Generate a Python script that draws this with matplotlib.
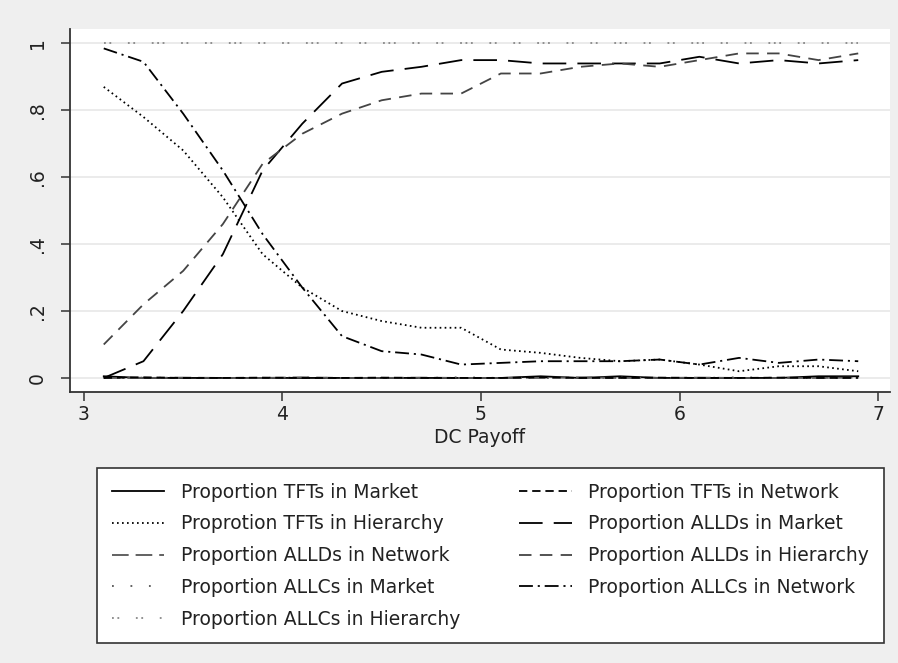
import matplotlib
matplotlib.use("Agg")
import matplotlib.pyplot as plt

# DC payoff steps and simulated strategy proportions
dc_payoff = [3.1, 3.3, 3.5, 3.7, 3.9, 4.1, 4.3, 4.5, 4.7, 4.9,
             5.1, 5.3, 5.5, 5.7, 5.9, 6.1, 6.3, 6.5, 6.7, 6.9]

tft_market = [0.005, 0.0, 0.0, 0.0, 0.0, 0.0, 0.0, 0.0, 0.0, 0.0,
              0.0, 0.005, 0.0, 0.005, 0.0, 0.0, 0.0, 0.0, 0.005, 0.005]
tft_network = [0.0, 0.002, 0.0, 0.0, 0.001, 0.0, 0.0, 0.001, 0.0, 0.0,
               0.0, 0.002, 0.0, 0.0, 0.001, 0.0, 0.0, 0.001, 0.0, 0.0]
tft_hierarchy = [0.87, 0.78, 0.68, 0.54, 0.37, 0.27, 0.20, 0.17, 0.15, 0.15,
                 0.085, 0.075, 0.06, 0.05, 0.055, 0.04, 0.02, 0.035, 0.035, 0.02]
alld_market = [0.0, 0.05, 0.20, 0.37, 0.62, 0.76, 0.88, 0.915, 0.93, 0.95,
               0.95, 0.94, 0.94, 0.94, 0.94, 0.96, 0.94, 0.95, 0.94, 0.95]
alld_network = [0.0, 0.0, 0.001, 0.0, 0.0, 0.002, 0.0, 0.0, 0.001, 0.0,
                0.0, 0.0, 0.002, 0.0, 0.0, 0.001, 0.0, 0.0, 0.0, 0.001]
alld_hierarchy = [0.10, 0.22, 0.32, 0.46, 0.64, 0.73, 0.79, 0.83, 0.85, 0.85,
                  0.91, 0.91, 0.93, 0.94, 0.93, 0.95, 0.97, 0.97, 0.95, 0.97]
allc_market = [0.0, 0.001, 0.0, 0.0, 0.0, 0.001, 0.0, 0.0, 0.0, 0.002,
               0.0, 0.0, 0.0, 0.001, 0.0, 0.0, 0.002, 0.0, 0.0, 0.0]
allc_network = [0.985, 0.945, 0.79, 0.62, 0.43, 0.27, 0.125, 0.08, 0.07, 0.04,
                0.045, 0.05, 0.05, 0.05, 0.055, 0.04, 0.06, 0.045, 0.055, 0.05]
allc_hierarchy = [1.0, 1.0, 1.0, 1.0, 1.0, 1.0, 1.0, 1.0, 1.0, 1.0,
                  1.0, 1.0, 1.0, 1.0, 1.0, 1.0, 1.0, 1.0, 1.0, 1.0]

x_ticks = [3, 4, 5, 6, 7]
y_ticks = [0, 0.2, 0.4, 0.6, 0.8, 1.0]
y_tick_labels = ["0", ".2", ".4", ".6", ".8", "1"]

# (values, label, colour, dash pattern in points), in legend order
series = [
    (tft_market, "Proportion TFTs in Market", "black", "-"),
    (tft_hierarchy, "Proprotion TFTs in Hierarchy", "black", (0, (1.2, 2.4))),
    (alld_network, "Proportion ALLDs in Network", "#555555", (0, (12, 5))),
    (allc_market, "Proportion ALLCs in Market", "#555555", (0, (1.3, 12))),
    (allc_hierarchy, "Proportion ALLCs in Hierarchy", "#888888",
     (0, (1.3, 2.6, 1.3, 12, 1.3, 2.6, 1.3, 12, 1.3, 2.6, 1.3, 2.6, 1.3, 12))),
    (tft_network, "Proportion TFTs in Network", "black", (0, (6, 3.5))),
    (alld_market, "Proportion ALLDs in Market", "black", (0, (17, 8))),
    (alld_hierarchy, "Proportion ALLDs in Hierarchy", "#444444", (0, (9, 6))),
    (allc_network, "Proportion ALLCs in Network", "black", (0, (10, 3.5, 1.5, 3.5))),
]

plt.rcParams["font.family"] = "DejaVu Sans"
plt.rcParams["lines.scale_dashes"] = False

fig = plt.figure(figsize=(8.98, 6.63), dpi=100, facecolor="#efefef")
ax = fig.add_axes([70 / 898, 1 - 392 / 663, 820 / 898, 363 / 663])
ax.set_facecolor("white")

handles = []
for values, label, color, ls in series:
    line, = ax.plot(dc_payoff, values, color=color, linestyle=ls, lw=1.3, label=label)
    handles.append(line)

ax.set_xlim(2.93, 7.06)
ax.set_ylim(-0.042, 1.043)
ax.set_xticks(x_ticks)
ax.set_yticks(y_ticks)
ax.set_yticklabels(y_tick_labels, rotation=90, va="center")
ax.tick_params(axis="both", direction="out", length=6.5, width=1.1,
               color="#333333", labelsize=13.5, labelcolor="#222222")
ax.tick_params(axis="y", pad=10)
ax.tick_params(axis="x", pad=3)
ax.set_xlabel("DC Payoff", fontsize=13.5, color="#222222", labelpad=3)

ax.yaxis.grid(True, color="#e9e9e9", lw=1.3)
ax.set_axisbelow(True)
for side in ["top", "right"]:
    ax.spines[side].set_visible(False)
for side in ["left", "bottom"]:
    ax.spines[side].set_color("#333333")
    ax.spines[side].set_linewidth(1.3)

leg = fig.legend(handles=handles, ncol=2, loc="upper left",
                 bbox_to_anchor=(97 / 898, 1 - 468 / 663, 787 / 898, 0),
                 mode="expand", borderaxespad=0, fontsize=13.5,
                 handlelength=2.8, handletextpad=0.9, labelspacing=0.68,
                 borderpad=0.78, fancybox=False, framealpha=1,
                 edgecolor="#333333", facecolor="white")
leg.get_frame().set_linewidth(1.2)
for t in leg.get_texts():
    t.set_color("#222222")

fig.savefig("out.png", dpi=100, facecolor=fig.get_facecolor())
